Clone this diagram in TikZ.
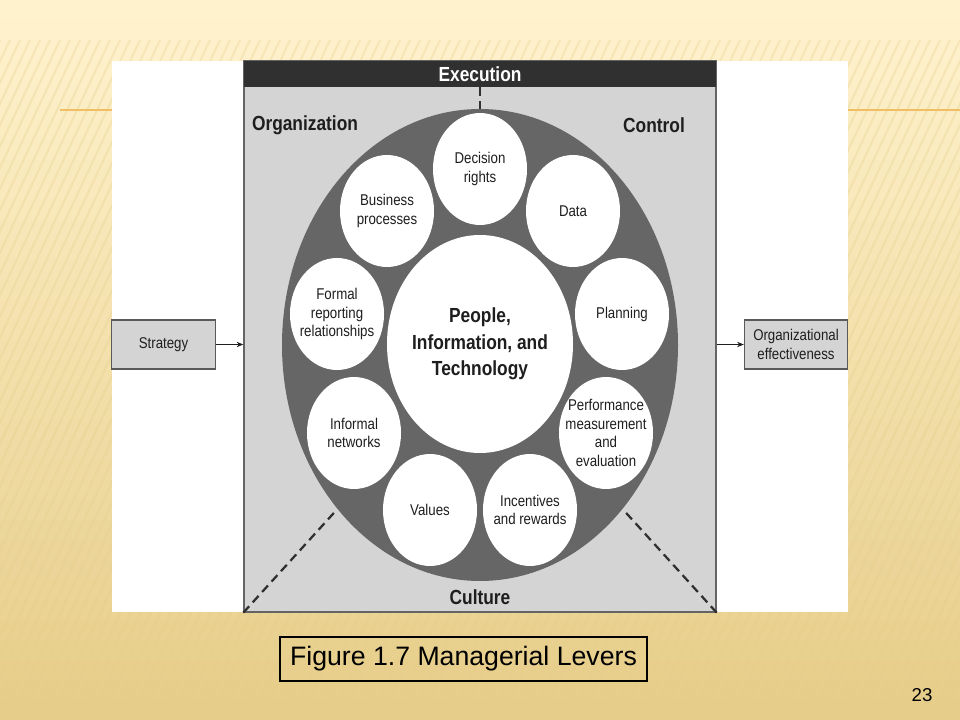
\documentclass[tikz,border=0pt]{standalone}
\usepackage{fontspec}
\setmainfont{Liberation Sans}
\newfontfamily\narrowsans[FakeStretch=0.85]{Liberation Sans}
\usetikzlibrary{shapes.geometric,arrows.meta}

\definecolor{slidecream}{RGB}{255,242,205}
\definecolor{slidetan}{RGB}{230,205,137}
\definecolor{panelgray}{RGB}{212,212,212}
\definecolor{ringgray}{RGB}{102,102,102}
\definecolor{bargray}{RGB}{48,48,48}
\definecolor{inkgray}{RGB}{30,30,30}
\definecolor{ruleorange}{RGB}{242,190,100}

\begin{document}
\begin{tikzpicture}[x=0.75pt,y=0.75pt,yscale=-1,xscale=1,
  lever/.style={ellipse, fill=white, minimum width=70.5pt, minimum height=84pt, inner sep=-6pt, align=center, text=inkgray, font=\narrowsans\fontsize{11.7}{13.8}\selectfont},
  core/.style={ellipse, fill=white, minimum width=139.5pt, minimum height=163.5pt, inner sep=-6pt, align=center, text=inkgray, font=\narrowsans\bfseries\fontsize{15.3}{20}\selectfont},
  heading/.style={text=inkgray, font=\narrowsans\bfseries\fontsize{15.3}{18}\selectfont},
  sidebox/.style={rectangle, draw={rgb,255:red,90;green,90;blue,90}, line width=0.8pt, fill=panelgray, minimum width=77.5pt, minimum height=36.75pt, inner sep=0pt, align=center, text=inkgray, font=\narrowsans\fontsize{11.7}{13.8}\selectfont},
  feed/.style={-{Stealth[length=5pt,width=4pt]}, draw=inkgray, line width=0.7pt},
  cut/.style={dash pattern=on 6.5pt off 4pt, line width=1.7pt, draw=bargray}
]
\useasboundingbox (0,0) rectangle (960,720);

%Slide background
\foreach \k in {0,...,35} {
  \pgfmathtruncatemacro{\mix}{\k*100/35}
  \fill[slidetan!\mix!slidecream] (0,\k*20) rectangle (960,\k*20+21);
}
\foreach \s in {0,10,...,1280} {
  \draw[slidetan, opacity=0.3, line width=1.5] (\s,40) -- (\s-320,720);
}
\draw[ruleorange, line width=1.2] (60,110) -- (960,110);

%White sheet
\fill[white] (112,61) rectangle (848,612);

%Levers panel
\node[rectangle, draw={rgb,255:red,100;green,100;blue,100}, line width=1pt, fill=panelgray, minimum width=354pt, minimum height=413.25pt, inner sep=0pt] (panel) at (480,336.5) {};
\node[fill=bargray, minimum width=354pt, minimum height=19.5pt, inner sep=0pt, heading, text=white] (exec) at (480,74) {Execution};
\node[ellipse, fill=ringgray, minimum width=297pt, minimum height=354pt, inner sep=0pt] (ring) at (480,345) {};

%Dashed lines
\draw[cut] (exec) -- (ring);
\draw[cut] (panel.south west) -- (ring.229);
\draw[cut] (panel.south east) -- (ring.-49);

% Text Node
\node[heading] (org) at (305,125) {Organization};
\node[heading] (ctrl) at (654,125) {Control};
\node[heading] (culture) at (480,597) {Culture};

% Lever nodes
\node[lever] (decision) at (480,169) {Decision\\rights};
\node[lever] (data) at (573,211) {Data};
\node[lever] (planning) at (622,314) {Planning};
\node[lever] (perf) at (606,433) {Performance\\measurement\\and\\evaluation};
\node[lever] (incent) at (530,510) {Incentives\\and rewards};
\node[lever] (values) at (430,510) {Values};
\node[lever] (informal) at (354,433) {Informal\\networks};
\node[lever] (formal) at (337,314) {Formal\\reporting\\relationships};
\node[lever] (business) at (387,211) {Business\\processes};
\node[core] (core) at (480,344) {People,\\Information, and\\Technology};

% Side boxes
\node[sidebox] (strategy) at (163.5,344.5) {Strategy};
\node[sidebox] (outcome) at (796,344.5) {Organizational\\effectiveness};
\draw[feed] (strategy) -- (strategy -| panel.west);
\draw[feed] (panel.east |- outcome) -- (outcome);

% Caption
\node[draw=black, line width=0.8pt, minimum width=275.25pt, minimum height=33pt, inner sep=0pt, font=\fontsize{20}{24}\selectfont] (caption) at (463.5,659) {Figure 1.7 Managerial Levers};
\node[font=\fontsize{14}{16}\selectfont] (pagenum) at (922,695) {23};

\end{tikzpicture}
\end{document}
